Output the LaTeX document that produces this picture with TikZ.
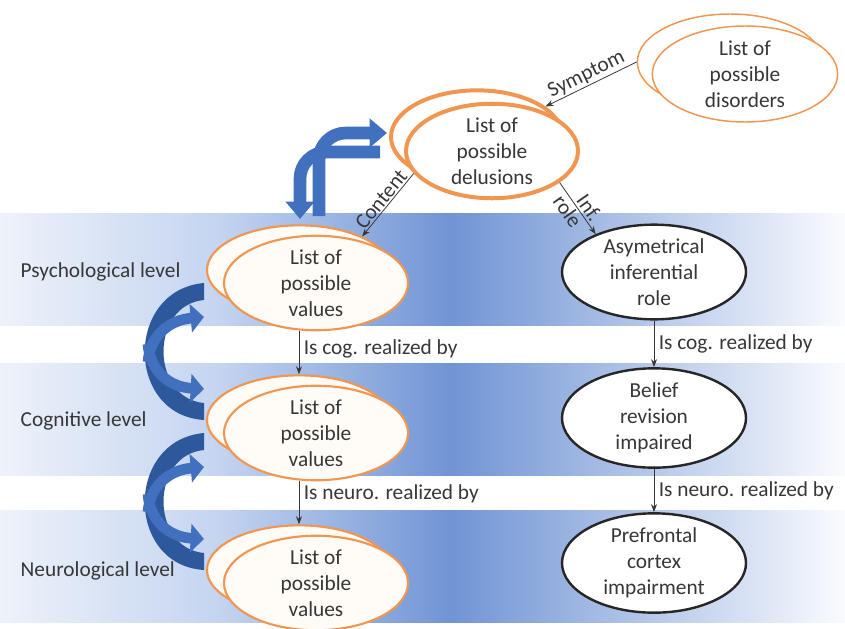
\documentclass[tikz,border=0pt]{standalone}
\usepackage{fontspec}
\setmainfont{Carlito}
\usetikzlibrary{shapes.geometric}
\usetikzlibrary{arrows.meta}

\definecolor{bandleft}{RGB}{238,242,250}
\definecolor{bandmid}{RGB}{196,212,240}
\definecolor{bandblue}{RGB}{112,148,212}
\definecolor{bandright}{RGB}{250,251,254}
\definecolor{orangeline}{RGB}{240,150,80}
\definecolor{valuefill}{RGB}{255,251,246}
\definecolor{bluearrow}{RGB}{64,112,190}
\definecolor{bluedark}{RGB}{46,88,156}
\definecolor{textgray}{RGB}{55,55,55}

\begin{document}
\begin{tikzpicture}[x = 0.75pt, y = -0.75pt, font = \fontsize{16}{19.5}\selectfont]
	\tikzstyle{orangeStyle}=[shape = ellipse, minimum width = 138pt, minimum height = 67pt, inner sep = 0pt, align = center, text = textgray, draw = orangeline, line width = 1.3pt, fill = white]
	\tikzstyle{valueStyle}=[orangeStyle, fill = valuefill, line width = 1.6pt]
	\tikzstyle{disorderStyle}=[orangeStyle, minimum width = 139pt, minimum height = 72pt, line width = 1.1pt]
	\tikzstyle{delusionStyle}=[orangeStyle, line width = 3pt, minimum width = 129pt, minimum height = 70pt]
	\tikzstyle{roleStyle}=[shape = ellipse, minimum width = 138pt, minimum height = 66pt, inner sep = 0pt, align = center, text = textgray, draw = black!85, line width = 1.8pt, fill = white]
	\tikzstyle{levelStyle}=[anchor = west, text = textgray]
	\tikzstyle{labelStyle}=[text = textgray]
	\tikzstyle{linkStyle}=[draw = textgray, line width = 0.6pt, -{Stealth[length = 6pt, width = 4.5pt]}]
	\tikzstyle{bendStyle}=[draw = bluearrow, line width = 9.5pt, rounded corners = 20pt, -{Triangle[length = 13pt, width = 21pt]}]
	\tikzstyle{curveStyle}=[draw = bluearrow, line width = 8pt, -{Triangle[length = 10pt, width = 21pt]}]
	\useasboundingbox (0,0) rectangle (845,628);
	% level bands
	\foreach \y in {213, 363, 510} {
		\shade[left color = bandleft, right color = bandmid] (0,\y) rectangle (221,\y+112);
		\shade[left color = bandmid, right color = bandblue] (220,\y) rectangle (451,\y+112);
		\shade[left color = bandblue, right color = bandright] (450,\y) rectangle (845,\y+112);
	}
	\node[levelStyle] (psych) at (16,272) {Psychological level};
	\node[levelStyle] (cog) at (16,421) {Cognitive level};
	\node[levelStyle] (neuro) at (16,571) {Neurological level};
	% curved arrows between levels
	\foreach \dy in {0, 150} {
		\begin{scope}[shift = {(0,\dy)}]
			\fill[bluedark] (204,283) .. controls (125,290) and (125,415) .. (204,420) -- (204,403) .. controls (150,398) and (150,305) .. (204,300) -- cycle;
			\draw[curveStyle] (148,362) .. controls (150,335) and (170,320) .. (204,317);
			\draw[curveStyle] (148,344) .. controls (150,372) and (170,387) .. (204,389);
		\end{scope}
	}
	% bent arrows
	\draw[bendStyle] (319,216) -- (319,133) -- (387,133);
	\draw[bendStyle] (380,152) -- (300,152) -- (300,219);
	% nodes
	\node[disorderStyle] (disB) at (730,62) {};
	\node[disorderStyle] (dis) at (745,74) {List of\\possible\\disorders};
	\node[delusionStyle] (delB) at (477,137) {};
	\node[delusionStyle] (del) at (492,151) {List of\\possible\\delusions};
	\node[valueStyle] (val1B) at (299,270) {};
	\node[valueStyle] (val1) at (316,283) {List of\\possible\\values};
	\node[valueStyle] (val2B) at (299,420) {};
	\node[valueStyle] (val2) at (316,433) {List of\\possible\\values};
	\node[valueStyle] (val3B) at (299,570) {};
	\node[valueStyle] (val3) at (316,583) {List of\\possible\\values};
	\node[roleStyle] (asym) at (654,272) {Asymetrical\\inferential\\role};
	\node[roleStyle] (belief) at (654,418) {Belief\\revision\\impaired};
	\node[roleStyle] (prefront) at (654,563) {Prefrontal\\cortex\\impairment};
	% links
	\draw[linkStyle] (disB.west) -- node[labelStyle, sloped, above, inner sep = 1pt] {Symptom} (delB.24);
	\draw[linkStyle] (del.196) -- node[labelStyle, sloped, above, inner sep = 1pt] {Content} (val1B.28);
	\draw[linkStyle] (del.-25) -- node[labelStyle, sloped, above, inner sep = 1.5pt, pos = 0.6] {Inf.} node[labelStyle, sloped, below, inner sep = 1.5pt, pos = 0.45] {role} (asym.147);
	\draw[linkStyle] (val1.south -| val1B) -- node[labelStyle, right, pos = 0.4] {Is cog. realized by} (val2B.north);
	\draw[linkStyle] (val2.south -| val2B) -- node[labelStyle, right, pos = 0.3] {Is neuro. realized by} (val3B.north);
	\draw[linkStyle] (asym) -- node[labelStyle, right] {Is cog. realized by} (belief);
	\draw[linkStyle] (belief) -- node[labelStyle, right] {Is neuro. realized by} (prefront);
\end{tikzpicture}
\end{document}
